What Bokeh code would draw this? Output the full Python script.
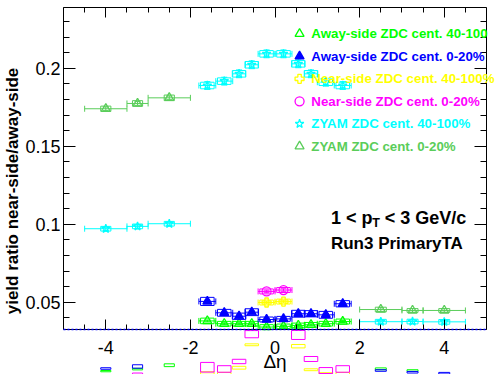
import numpy as np
from bokeh.plotting import figure
from bokeh.models import LinearAxis, FixedTicker, Range1d, Label, CustomJSTickFormatter
from bokeh.embed import file_html
from bokeh.resources import INLINE
from bokeh.core.properties import value

NAN = float("nan")

# ---------------- data ----------------
bin_centers = [-4.0, -3.25, -2.5, -1.6, -1.2, -0.85, -0.55, -0.2, 0.2, 0.55, 0.85, 1.2, 1.6, 2.5, 3.25, 4.0]
bin_half_widths = [0.5, 0.25, 0.5, 0.2, 0.2, 0.15, 0.15, 0.2, 0.2, 0.15, 0.15, 0.2, 0.2, 0.5, 0.25, 0.5]
sys_box_half_widths = [0.12, 0.12, 0.12, 0.16, 0.16, 0.16, 0.16, 0.16, 0.16, 0.16, 0.16, 0.16, 0.16, 0.13, 0.13, 0.13]

away_40_100 = [0.0058, 0.0071, 0.0096, 0.0380, 0.0362, 0.0362, 0.0362, 0.0341, 0.0345, 0.0351, 0.0355, 0.0362, 0.0376, 0.0073, 0.0062, NAN]
away_40_100_stat = [0.0006] * 16
away_40_100_sys = [0.0004, 0.0005, 0.0009, 0.0018, 0.0015, 0.0015, 0.0015, 0.0015, 0.0015, 0.0015, 0.0015, 0.0015, 0.0016, 0.0006, 0.0005, NAN]

away_0_20 = [0.0075, 0.0088, NAN, 0.0505, 0.0432, 0.0410, 0.0436, 0.0389, 0.0393, 0.0426, 0.0426, 0.0419, 0.0490, 0.0062, 0.0051, 0.0045]
away_0_20_stat = [0.0008] * 16
away_0_20_sys = [0.0005, 0.0011, NAN, 0.0026, 0.0022, 0.0020, 0.0022, 0.0016, 0.0016, 0.0022, 0.0020, 0.0022, 0.0020, 0.0005, 0.0005, 0.0005]

near_40_100 = [NAN, NAN, NAN, 0.0046, 0.0042, 0.0080, 0.0227, 0.0498, 0.0504, 0.0218, 0.0067, 0.0040, 0.0042, NAN, NAN, NAN]
near_40_100_stat = [0.0008] * 16
near_40_100_sys = [NAN, NAN, NAN, 0.0008, 0.0008, 0.0009, 0.0006, 0.0016, 0.0016, 0.0011, 0.0006, 0.0008, 0.0008, NAN, NAN, NAN]

near_0_20 = [NAN, 0.0041, NAN, 0.0083, 0.0072, 0.0120, 0.0295, 0.0569, 0.0578, 0.0290, 0.0136, 0.0062, 0.0072, NAN, NAN, NAN]
near_0_20_stat = [0.0008] * 16
near_0_20_sys = [NAN, 0.0005, NAN, 0.0031, 0.0021, 0.0014, 0.0023, 0.0016, 0.0016, 0.0029, 0.0016, 0.0019, 0.0021, NAN, NAN, NAN]

zyam_40_100 = [0.0971, 0.0986, 0.1003, 0.1889, 0.1917, 0.1964, 0.2022, 0.2092, 0.2092, 0.2028, 0.1964, 0.1910, 0.1889, 0.0375, 0.0376, 0.0374]
zyam_40_100_stat = [0.0012, 0.0012, 0.0012, 0.0025, 0.0025, 0.0025, 0.0025, 0.0025, 0.0025, 0.0025, 0.0025, 0.0025, 0.0025, 0.0012, 0.0012, 0.0012]
zyam_40_100_sys = [0.0015, 0.0015, 0.0015, 0.0021, 0.0021, 0.0021, 0.0021, 0.0021, 0.0021, 0.0021, 0.0021, 0.0021, 0.0021, 0.0015, 0.0015, 0.0015]

zyam_0_20 = [0.1740, 0.1774, 0.1810, NAN, NAN, NAN, NAN, NAN, NAN, NAN, NAN, NAN, NAN, 0.0453, 0.0447, 0.0447]
zyam_0_20_stat = [0.0012] * 16
zyam_0_20_sys = [0.0017, 0.0018, 0.0018, NAN, NAN, NAN, NAN, NAN, NAN, NAN, NAN, NAN, NAN, 0.0015, 0.0012, 0.0012]

legend_labels = ["Away-side ZDC cent. 40-100", "Away-side ZDC cent. 0-20%", "Near-side ZDC cent. 40-100%",
                 "Near-side ZDC cent. 0-20%", "ZYAM ZDC cent. 40-100%", "ZYAM ZDC cent. 0-20%"]

x_major_ticks = [-4, -2, 0, 2, 4]
x_tick_labels = ["-4", "-2", "0", "2", "4"]
x_minor_ticks = [-5, -4.5, -4, -3.5, -3, -2.5, -2, -1.5, -1, -0.5, 0, 0.5, 1, 1.5, 2, 2.5, 3, 3.5, 4, 4.5, 5]
y_major_ticks = [0.05, 0.1, 0.15, 0.2]
y_minor_ticks = [0.04, 0.05, 0.06, 0.07, 0.08, 0.09, 0.10, 0.11, 0.12, 0.13, 0.14, 0.15, 0.16,
                 0.17, 0.18, 0.19, 0.20, 0.21, 0.22, 0.23]
x_title = "Δη"
y_title = "yield ratio near-side/away-side"

# ---------------- geometry ----------------
W, H = 496, 374
FRAME_LEFT, FRAME_TOP = 60, 7
AX_X0, AX_X1 = -5.0, 5.0          # visible axis extent (ROOT frame)
PXX = 42.6                        # px per unit in x
PXY = 1560.0                      # px per unit in y
X0 = AX_X0
X1 = X0 + (W - FRAME_LEFT) / PXX  # frame extends to the canvas edge (legend overflows the box)
Y1 = 0.2 + (67.7 - FRAME_TOP) / PXY
Y0 = Y1 - (H - FRAME_TOP) / PXY   # frame extends below the axis (unclipped boxes)
Y_AXIS_MIN = 0.0325

def dx(page_x):
    return X0 + (page_x - FRAME_LEFT) / PXX

def dy(page_y):
    return Y1 - (page_y - FRAME_TOP) / PXY

FONT = "Liberation Sans"

p = figure(width=W, height=H, x_range=Range1d(X0, X1), y_range=Range1d(Y0, Y1),
           x_axis_location=None, y_axis_location=None, toolbar_location=None,
           output_backend="svg", min_border_left=FRAME_LEFT, min_border_right=0,
           min_border_top=FRAME_TOP, min_border_bottom=0, outline_line_color=None,
           background_fill_color="white", border_fill_color="white")
p.xgrid.visible = False
p.ygrid.visible = False

xt = FixedTicker(ticks=x_major_ticks, minor_ticks=x_minor_ticks)
yt = FixedTicker(ticks=y_major_ticks, minor_ticks=y_minor_ticks)

def style_axis(ax, major, minor, labels):
    ax.major_tick_in = major
    ax.major_tick_out = 0
    ax.minor_tick_in = minor
    ax.minor_tick_out = 0
    ax.axis_line_color = "black"
    ax.major_tick_line_color = "black"
    ax.minor_tick_line_color = "black"
    if not labels:
        ax.major_label_text_font_size = "0px"
        ax.major_label_text_color = None
        ax.major_label_standoff = 0

left = LinearAxis(ticker=yt, bounds=(Y_AXIS_MIN, Y1),
                  formatter=CustomJSTickFormatter(code="return String(Math.round(tick*100)/100)"))
style_axis(left, 12, 6, True)
left.major_label_text_font = FONT
left.major_label_text_font_size = "18px"
left.major_label_text_color = "black"
left.major_label_standoff = 3
left.axis_label = y_title
left.axis_label_text_font = FONT
left.axis_label_text_font_size = "17px"
left.axis_label_text_font_style = "bold"
left.axis_label_text_color = "black"
left.axis_label_standoff = 0

right = LinearAxis(ticker=yt, bounds=(Y_AXIS_MIN, Y1), fixed_location=AX_X1)
style_axis(right, 12, 6, False)
top = LinearAxis(ticker=xt, bounds=(AX_X0, AX_X1))
style_axis(top, 10, 5, False)
bottom = LinearAxis(ticker=xt, bounds=(AX_X0, AX_X1), fixed_location=Y_AXIS_MIN)
style_axis(bottom, 10, 5, False)
p.add_layout(left, "left")
p.add_layout(right, "right")
p.add_layout(top, "above")
p.add_layout(bottom, "below")

# dotted blue line along the lower edge of the frame
p.segment(x0=[AX_X0], x1=[AX_X1], y0=[Y_AXIS_MIN], y1=[Y_AXIS_MIN], line_color="#0000ff",
          line_dash="2 2", line_width=1.5, level="overlay")

def draw(y, stat, sys, color, marker, filled):
    x = np.asarray(bin_centers, float)
    hw = np.asarray(bin_half_widths, float)
    bw = np.asarray(sys_box_half_widths, float)
    y = np.asarray(y, float)
    stat = np.asarray(stat, float)
    sys = np.asarray(sys, float)
    have = ~np.isnan(y)
    p.rect(x=x[have], y=y[have], width=2 * bw[have], height=2 * sys[have],
           fill_color=None, line_color=color, line_width=1)
    vis = have & (y >= Y_AXIS_MIN)
    xv, yv, hv, sv = x[vis], y[vis], hw[vis], stat[vis]
    p.segment(x0=xv - hv, x1=xv + hv, y0=yv, y1=yv, line_color=color, line_width=1)
    p.scatter(x=np.concatenate([xv - hv, xv + hv]), y=np.concatenate([yv, yv]),
              marker="dash", angle=np.pi / 2, size=6, line_color=color, line_width=1)
    p.segment(x0=xv, x1=xv, y0=yv - sv, y1=yv + sv, line_color=color, line_width=1)
    p.scatter(x=np.concatenate([xv, xv]), y=np.concatenate([yv - sv, yv + sv]),
              marker="dash", size=6, line_color=color, line_width=1)
    p.scatter(x=xv, y=yv, marker=marker, size=9, line_color=color,
              fill_color=color if filled else None, line_width=1.3)

C_AWAY40 = "#00ff00"
C_AWAY0 = "#0000ff"
C_NEAR40 = "#ffff00"
C_NEAR0 = "#ff00ff"
C_ZYAM40 = "#00ffff"
C_ZYAM0 = "#5acd5a"

draw(zyam_0_20, zyam_0_20_stat, zyam_0_20_sys, C_ZYAM0, "triangle", False)
draw(zyam_40_100, zyam_40_100_stat, zyam_40_100_sys, C_ZYAM40, "star", False)
draw(away_40_100, away_40_100_stat, away_40_100_sys, C_AWAY40, "triangle", False)
draw(near_40_100, near_40_100_stat, near_40_100_sys, C_NEAR40, "plus", False)
draw(near_0_20, near_0_20_stat, near_0_20_sys, C_NEAR0, "circle", False)
draw(away_0_20, away_0_20_stat, away_0_20_sys, C_AWAY0, "triangle", True)

# ---------------- legend ----------------
leg_colors = [C_AWAY40, C_AWAY0, C_NEAR40, C_NEAR0, C_ZYAM40, C_ZYAM0]
leg_markers = ["triangle", "triangle", "plus", "circle", "star", "triangle"]
leg_filled = [False, True, False, False, False, False]
row_py = [33.3 + 22.5 * i for i in range(6)]
for lab, col, mk, fl, py in zip(legend_labels, leg_colors, leg_markers, leg_filled, row_py):
    p.scatter(x=[dx(297.7)], y=[dy(py)], marker=mk, size=9, line_color=col,
              fill_color=col if fl else None, line_width=1.3)
    p.add_layout(Label(x=dx(309.5), y=dy(py), text=lab, text_color=col, text_font=FONT,
                       text_font_size="13.3px", text_font_style="bold", text_baseline="middle",
                       text_align="left"))

# ---------------- texts ----------------
p.text(x=[dx(329.3)], y=[dy(217.3)], text=["1 < p"], text_font=value(FONT), text_font_size="18px",
       text_font_style="bold", text_color="black", text_baseline="alphabetic", text_align="left")
p.text(x=[dx(370.8)], y=[dy(222.5)], text=["T"], text_font=value(FONT), text_font_size="12.5px",
       text_font_style="bold", text_color="black", text_baseline="alphabetic", text_align="left")
p.text(x=[dx(383.4)], y=[dy(217.3)], text=["< 3 GeV/c"], text_font=value(FONT), text_font_size="18px",
       text_font_style="bold", text_color="black", text_baseline="alphabetic", text_align="left")
p.text(x=[dx(329.3)], y=[dy(242.7)], text=["Run3 PrimaryTA"], text_font=value(FONT), text_font_size="17px",
       text_font_style="bold", text_color="black", text_baseline="alphabetic", text_align="left")

# x tick labels and title (the lower axis sits inside the extended frame)
p.text(x=x_major_ticks, y=[dy(346.5)] * len(x_major_ticks), text=x_tick_labels, text_font=value(FONT),
       text_font_size="18px", text_color="black", text_align="center", text_baseline="alphabetic")
p.text(x=[0.0], y=[dy(361)], text=[x_title], text_font=value(FONT), text_font_size="19px",
       text_color="black", text_align="center", text_baseline="alphabetic")

open("out.html", "w").write(file_html(p, INLINE, title="yield ratio"))
